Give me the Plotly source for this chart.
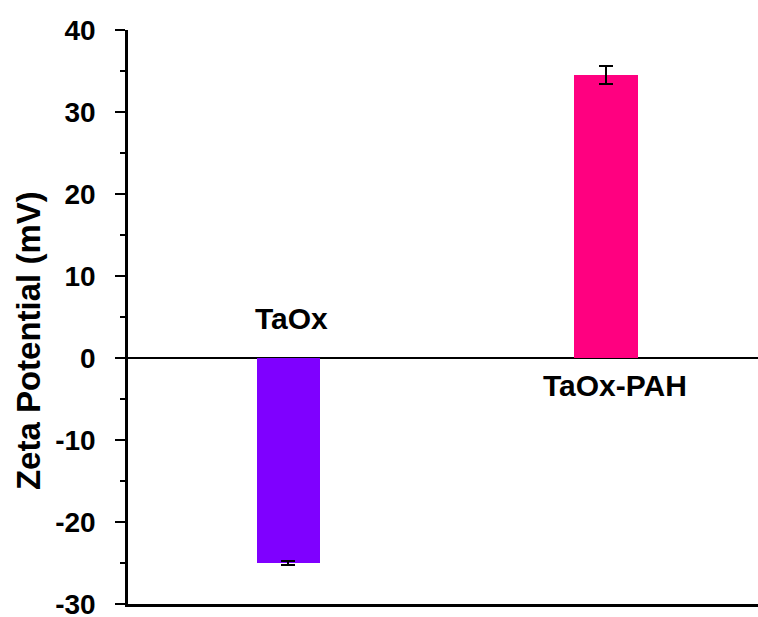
import plotly.graph_objects as go

# Zeta potential of the two samples
samples = ["TaOx", "TaOx-PAH"]
zeta_mv = [-25.0, 34.5]
zeta_err = [0.3, 1.1]
bar_colors = ["#7F00FF", "#FF0080"]

# label placement (data units) for each sample name
label_y = [4.8, -3.4]

y_ticks = [-30, -20, -10, 0, 10, 20, 30, 40]

positions = list(range(len(samples)))

fig = go.Figure()
fig.add_trace(go.Bar(
    x=positions,
    y=zeta_mv,
    width=0.2,
    marker=dict(color=bar_colors, line=dict(width=0)),
    error_y=dict(type="data", array=zeta_err, visible=True,
                 color="black", thickness=2, width=7),
    showlegend=False,
))

font_main = "Liberation Sans, Arial, sans-serif"

for p, name, ly in zip(positions, samples, label_y):
    fig.add_annotation(x=p, y=ly, xref="x", yref="y", text=f"<b>{name}</b>",
                       showarrow=False, xshift=3 if p == 0 else 9,
                       font=dict(family=font_main, size=30, color="black"))

# y-axis title, placed by pixel offset from the plot's left edge
fig.add_annotation(x=0, y=0.458, xref="paper", yref="paper",
                   text="<b>Zeta Potential (mV)</b>", textangle=-90,
                   showarrow=False, xanchor="center", yanchor="middle",
                   xshift=-100,
                   font=dict(family=font_main, size=33, color="black"))

fig.update_layout(
    width=758, height=617,
    margin=dict(l=128, r=0, t=30, b=13),
    plot_bgcolor="white", paper_bgcolor="white",
    bargap=0,
    xaxis=dict(range=[-0.5055, 1.479], showticklabels=False, ticks="",
               showgrid=False, zeroline=False, showline=True,
               linecolor="black", linewidth=2.5, fixedrange=True,
               automargin=False),
    yaxis=dict(range=[-30, 40],
               tickvals=y_ticks,
               ticktext=[f"<b>{v}</b>" for v in y_ticks],
               ticks="outside", ticklen=10, tickwidth=2, tickcolor="black",
               minor=dict(ticks="outside", ticklen=5, tickwidth=2,
                          tickcolor="black", dtick=5, tick0=0),
               showgrid=False, showline=True, linecolor="black", linewidth=2.5,
               zeroline=True, zerolinecolor="black", zerolinewidth=2,
               ticklabelstandoff=14, ticklabeloverflow="allow",
               automargin=False,
               tickfont=dict(family=font_main, size=28, color="black")),
    font=dict(family=font_main, color="black"),
)

fig.write_html("out.html")
